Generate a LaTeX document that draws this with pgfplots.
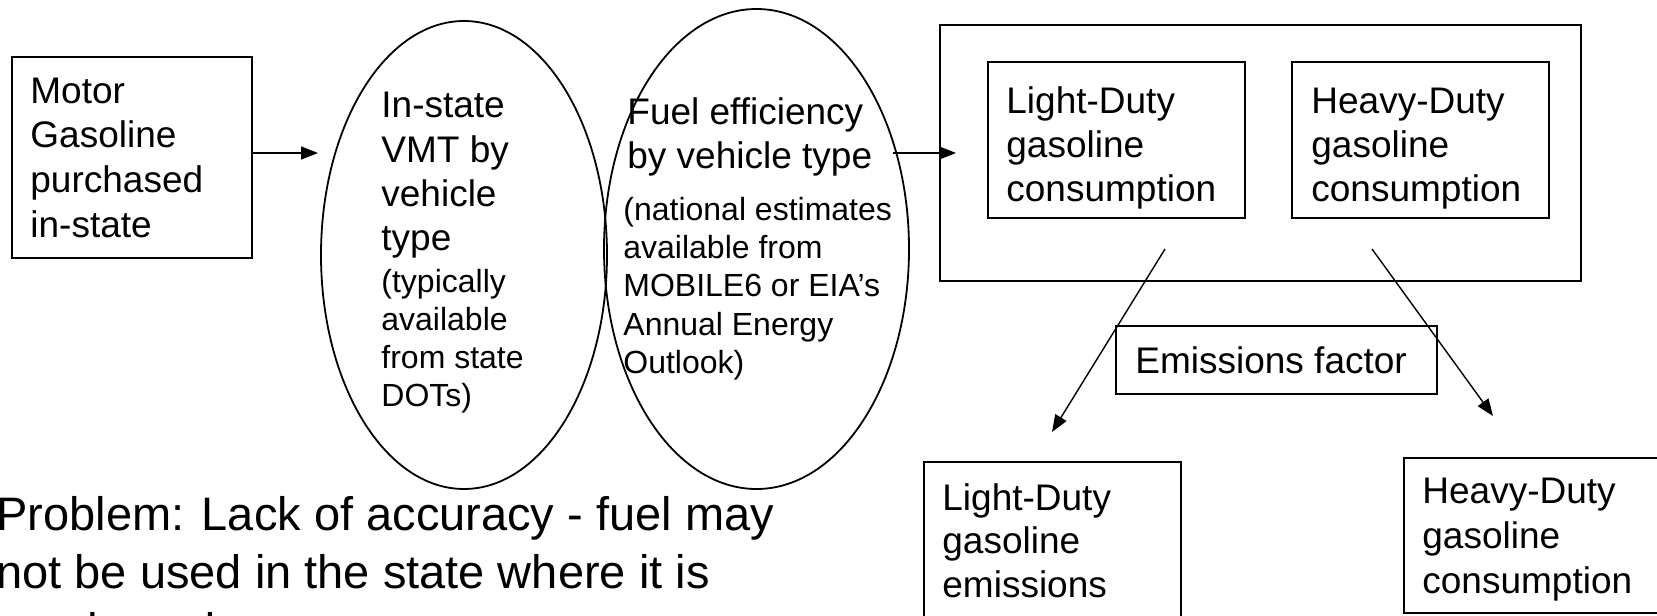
\documentclass[border=0pt]{standalone}
\usepackage{fontspec}
\setmainfont{Liberation Sans}
\usepackage{pgfplots}
\pgfplotsset{compat=1.18}
\usetikzlibrary{arrows.meta}
\newcommand{\fA}{\fontsize{18.5pt}{22pt}\selectfont}
\newcommand{\fB}{\fontsize{16pt}{19pt}\selectfont}
\newcommand{\fC}{\fontsize{23.5pt}{28pt}\selectfont}
\begin{document}
\begin{tikzpicture}
\begin{axis}[at={(0,0)}, anchor=south west, scale only axis,
  width=828.5pt, height=307.5pt,
  xmin=0, xmax=1657, ymin=0, ymax=615, y dir=reverse,
  axis lines=none, ticks=none, clip=true]
% ---- shapes ----
\draw[line width=1pt] (axis cs:12,57) rectangle (axis cs:252,258);
\draw[line width=0.9pt] (axis cs:464,255) ellipse [x radius=143, y radius=234];
\draw[line width=0.9pt] (axis cs:756.5,249) ellipse [x radius=152.5, y radius=240];
\draw[line width=1pt] (axis cs:940,25) rectangle (axis cs:1581,281);
\draw[line width=1pt] (axis cs:988,62) rectangle (axis cs:1245,218);
\draw[line width=1pt] (axis cs:1292,62) rectangle (axis cs:1549,218);
\draw[line width=1pt] (axis cs:1116,326) rectangle (axis cs:1437,394);
\draw[line width=1pt] (axis cs:924,462) rectangle (axis cs:1181,650);
\draw[line width=1pt] (axis cs:1404,458) rectangle (axis cs:1670,613);
% ---- arrows ----
\draw[line width=0.8pt, -{Triangle[length=8.5pt,width=6.5pt]}] (axis cs:252,153) -- (axis cs:318,153);
\draw[line width=0.8pt, -{Triangle[length=8.5pt,width=6.5pt]}] (axis cs:893,153) -- (axis cs:956,153);
\draw[line width=0.7pt, -{Triangle[length=8.5pt,width=6.5pt]}] (axis cs:1165,249) -- (axis cs:1052,432);
\draw[line width=0.7pt, -{Triangle[length=8.5pt,width=6.5pt]}] (axis cs:1372,249) -- (axis cs:1493,416);
% ---- texts ----
\begin{scope}[every node/.style={anchor=base west, inner sep=0pt}]
% box 1
\node[font=\fA] at (axis cs:30,104) {Motor};
\node[font=\fA] at (axis cs:30,148) {Gasoline};
\node[font=\fA] at (axis cs:30,192) {purchased};
\node[font=\fA] at (axis cs:30,237) {in-state};
% ellipse 1
\node[font=\fA] at (axis cs:381,118) {In-state};
\node[font=\fA] at (axis cs:381,162) {VMT by};
\node[font=\fA] at (axis cs:381,206) {vehicle};
\node[font=\fA] at (axis cs:381,250) {type};
\node[font=\fB] at (axis cs:381,292) {(typically};
\node[font=\fB] at (axis cs:381,330) {available};
\node[font=\fB] at (axis cs:381,368) {from state};
\node[font=\fB] at (axis cs:381,406) {DOTs)};
% ellipse 2
\node[font=\fA] at (axis cs:627,125) {Fuel efficiency};
\node[font=\fA] at (axis cs:627,168) {by vehicle type};
\node[font=\fB] at (axis cs:623,220) {(national estimates};
\node[font=\fB] at (axis cs:623,258) {available from};
\node[font=\fB] at (axis cs:623,296) {MOBILE6 or EIA’s};
\node[font=\fB] at (axis cs:623,335) {Annual Energy};
\node[font=\fB] at (axis cs:623,373) {Outlook)};
% inner boxes
\node[font=\fA] at (axis cs:1006,113) {Light-Duty};
\node[font=\fA] at (axis cs:1006,157) {gasoline};
\node[font=\fA] at (axis cs:1006,201) {consumption};
\node[font=\fA] at (axis cs:1311,113) {Heavy-Duty};
\node[font=\fA] at (axis cs:1311,157) {gasoline};
\node[font=\fA] at (axis cs:1311,201) {consumption};
% emissions factor
\node[font=\fA] at (axis cs:1135,373) {Emissions factor};
% bottom boxes
\node[font=\fA] at (axis cs:942,510) {Light-Duty};
\node[font=\fA] at (axis cs:942,553) {gasoline};
\node[font=\fA] at (axis cs:942,597) {emissions};
\node[font=\fA] at (axis cs:1422,503) {Heavy-Duty};
\node[font=\fA] at (axis cs:1422,548) {gasoline};
\node[font=\fA] at (axis cs:1422,593) {consumption};
% problem text
\node[font=\fC] at (axis cs:-4,530) {Problem: Lack of accuracy - fuel may};
\node[font=\fC] at (axis cs:-4,588) {not be used in the state where it is};
\node[font=\fC] at (axis cs:-4,646) {purchased.};
\end{scope}
\end{axis}
\pgfresetboundingbox
\path (0,0) rectangle (828.5pt,307.5pt);
\end{tikzpicture}
\end{document}
